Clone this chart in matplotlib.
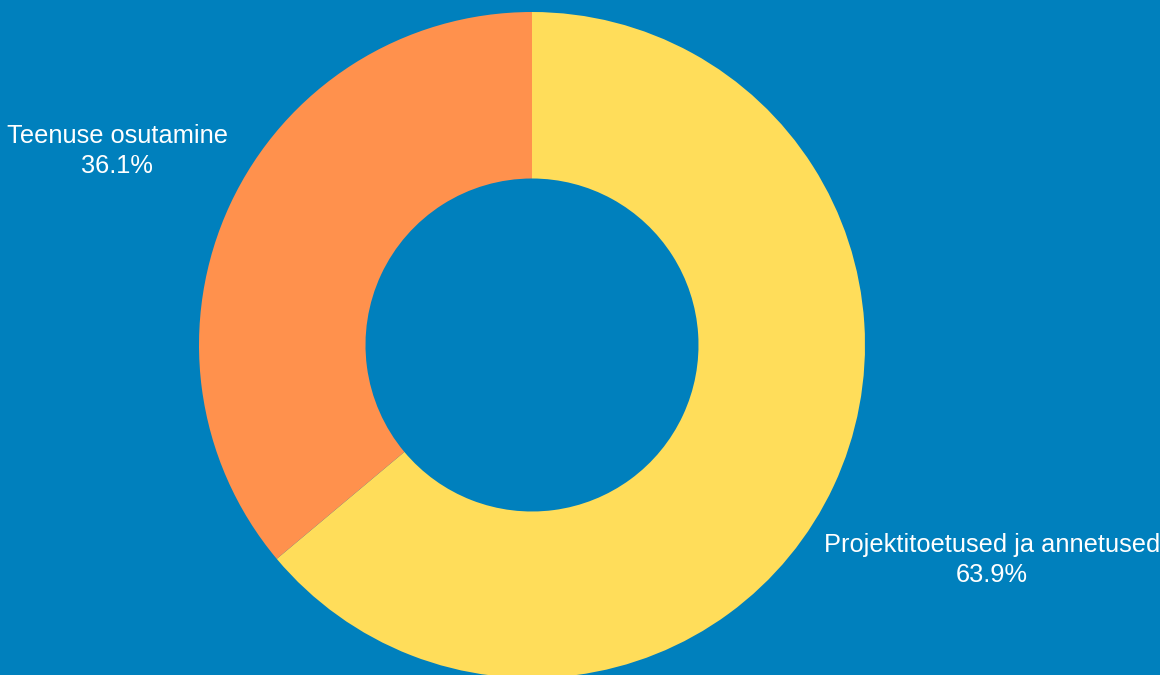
import matplotlib
matplotlib.use("Agg")
import matplotlib.pyplot as plt
import numpy as np

categories = ["Projektitoetused ja annetused", "Teenuse osutamine"]
values = [63.9, 36.1]
colors = ["#FFDD5A", "#FF914D"]
bg = "#0080BD"

W, H = 1160, 675
fig = plt.figure(figsize=(W / 100, H / 100), dpi=100, facecolor=bg)
ax = fig.add_axes([0, 0, 1, 1])
ax.set_facecolor(bg)

cx, cy = 532, H - 345
R = 333
wedges, _ = ax.pie(values, colors=colors, startangle=90, counterclock=False,
                   radius=R, center=(cx, cy),
                   wedgeprops=dict(width=R * 0.5, linewidth=0), frame=True)
ax.set_xlim(0, W)
ax.set_ylim(0, H)
ax.set_aspect("equal")
ax.axis("off")

dists = [1.525, 1.375]
for w, cat, v, d in zip(wedges, categories, values, dists):
    ang = np.deg2rad((w.theta1 + w.theta2) / 2)
    x = cx + R * d * np.cos(ang)
    y = cy + R * d * np.sin(ang)
    ax.text(x, y, f"{cat}\n{v:.1f}%", ha="center", va="center", color="white",
            fontsize=18.3, family="Liberation Sans", linespacing=1.33)

fig.savefig("out.png", dpi=100, facecolor=bg)
